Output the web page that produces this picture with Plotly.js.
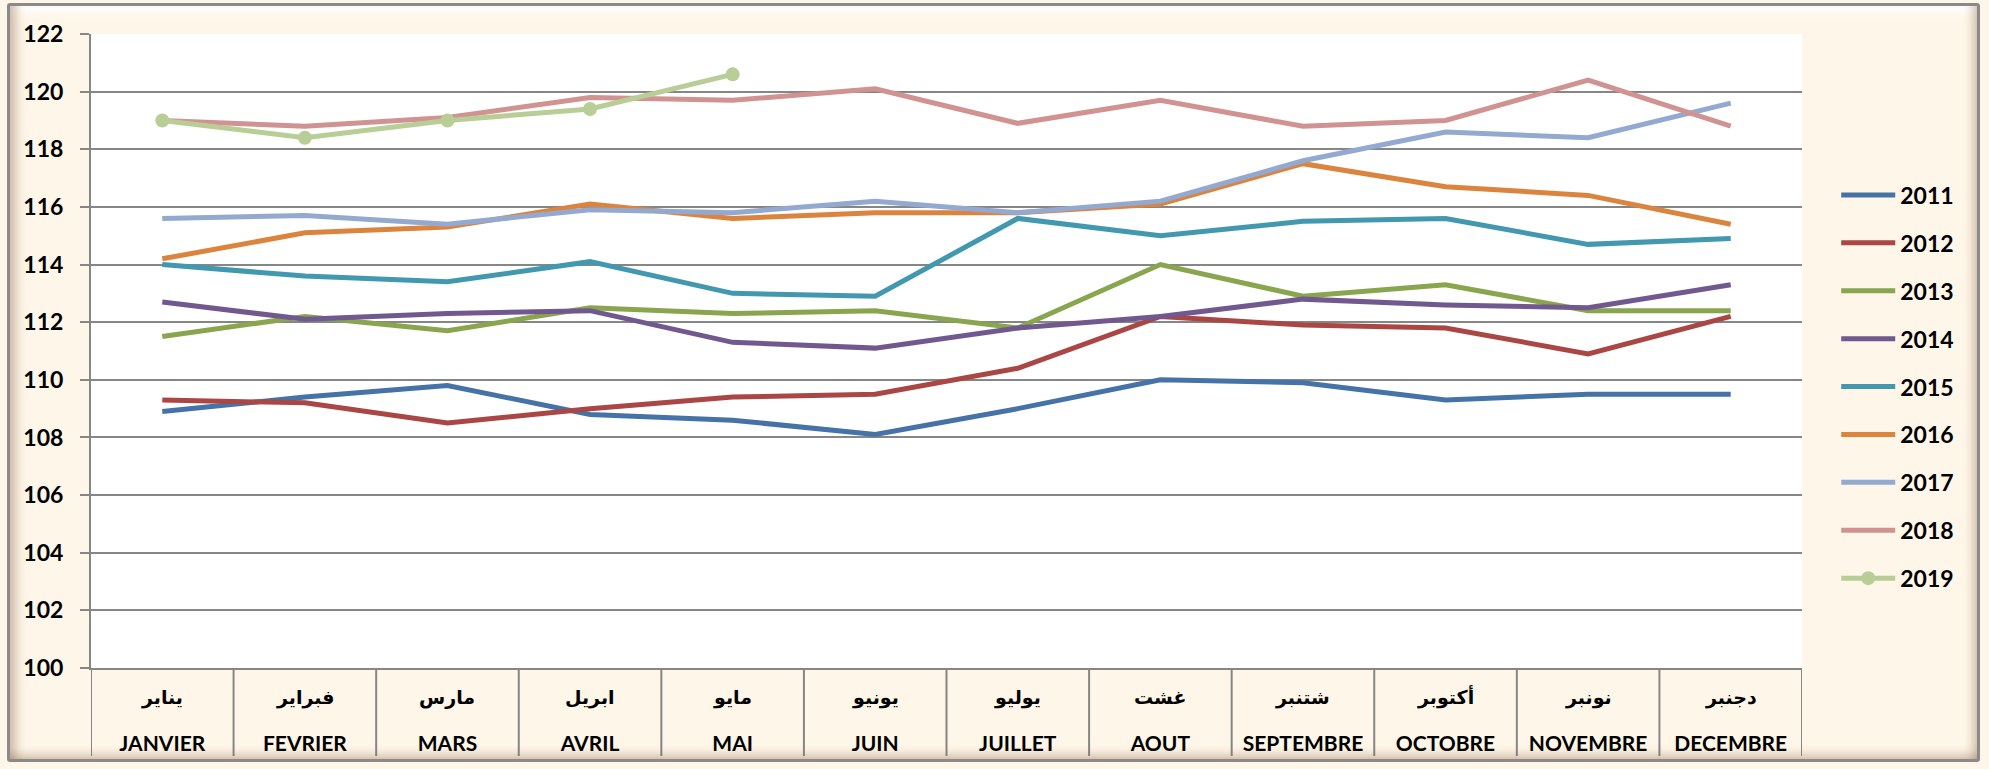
<!DOCTYPE html>
<html>
<head>
<meta charset="utf-8">
<script src="https://cdn.plot.ly/plotly-3.0.1.min.js"></script>
<style>
html,body{margin:0;padding:0;background:#ffffff;}
#wrap{position:relative;width:1989px;height:769px;overflow:hidden;}
#chart{width:1989px;height:769px;}
#frame{position:absolute;left:7px;top:3px;width:1973px;height:759px;box-sizing:border-box;
  border:3px solid #8a8a8a;border-radius:3px;pointer-events:none;
  box-shadow: inset 14px 0 10px -8px rgba(140,100,70,.40), inset -12px 0 10px -8px rgba(140,100,70,.40),
              inset 0 -12px 10px -8px rgba(140,100,70,.40), inset 0 14px 10px -8px rgba(255,255,255,.95);}
</style>
</head>
<body>
<div id="wrap"><div id="chart"></div><div id="frame"></div></div>
<script>
const monthsFr = ["JANVIER","FEVRIER","MARS","AVRIL","MAI","JUIN","JUILLET","AOUT","SEPTEMBRE","OCTOBRE","NOVEMBRE","DECEMBRE"];
const monthsAr = ["يناير","فبراير","مارس","ابريل","مايو","يونيو","يوليو","غشت","شتنبر","أكتوبر","نونبر","دجنبر"];
const years = ["2011","2012","2013","2014","2015","2016","2017","2018","2019"];

const v2011 = [108.9,109.4,109.8,108.8,108.6,108.1,109.0,110.0,109.9,109.3,109.5,109.5];
const v2012 = [109.3,109.2,108.5,109.0,109.4,109.5,110.4,112.2,111.9,111.8,110.9,112.2];
const v2013 = [111.5,112.2,111.7,112.5,112.3,112.4,111.8,114.0,112.9,113.3,112.4,112.4];
const v2014 = [112.7,112.1,112.3,112.4,111.3,111.1,111.8,112.2,112.8,112.6,112.5,113.3];
const v2015 = [114.0,113.6,113.4,114.1,113.0,112.9,115.6,115.0,115.5,115.6,114.7,114.9];
const v2016 = [114.2,115.1,115.3,116.1,115.6,115.8,115.8,116.1,117.5,116.7,116.4,115.4];
const v2017 = [115.6,115.7,115.4,115.9,115.8,116.2,115.8,116.2,117.6,118.6,118.4,119.6];
const v2018 = [119.0,118.8,119.1,119.8,119.7,120.1,118.9,119.7,118.8,119.0,120.4,118.8];
const v2019 = [119.0,118.4,119.0,119.4,120.6];

const seriesVals = [v2011,v2012,v2013,v2014,v2015,v2016,v2017,v2018,v2019];
const colors = ["#4572A7","#AA4643","#89A54E","#71588F","#4198AF","#DB843D","#93A9CF","#D19392","#B9CD96"];

const traces = years.map((yr,i)=>({
  type:'scatter',
  mode: yr==="2019" ? 'lines+markers' : 'lines',
  name: yr,
  legendgroup: yr,
  x: monthsFr.slice(0, seriesVals[i].length),
  y: seriesVals[i],
  line:{color:colors[i], width:5, shape:'linear'},
  marker:{color:colors[i], size:14},
  hoverinfo:'x+y+name'
}));

const gray = "#868686";
const dividerLen = 88/634;
const shapes = [];
for (let i=0;i<=monthsFr.length;i++){
  shapes.push({type:'line', xref:'x', yref:'paper', x0:i-0.5, x1:i-0.5, y0:0, y1:-dividerLen,
    line:{color:gray, width:2}, layer:'above'});
}
const annotations = monthsAr.map((t,i)=>({
  text:t, x:monthsFr[i], xref:'x', y:0, yref:'paper', yshift:-29, yanchor:'middle', xanchor:'center',
  showarrow:false, font:{family:'DejaVu Sans', size:19, color:'#000', weight:'bold'}
}));

const layout = {
  width:1989, height:769,
  margin:{l:91, r:187, t:34, b:101, pad:0},
  paper_bgcolor:'#FEF6E8',
  plot_bgcolor:'#FFFFFF',
  showlegend:true,
  legend:{x:1.02, xanchor:'left', y:0.78, yanchor:'top', traceorder:'grouped', tracegroupgap:15,
    itemwidth:54,
    bgcolor:'rgba(0,0,0,0)', font:{family:'Lato', size:23, color:'#000', weight:'bold'}},
  xaxis:{type:'category', categoryorder:'array', categoryarray:monthsFr, range:[-0.5,11.5],
    showgrid:false, zeroline:false, showline:true, linecolor:gray, linewidth:2,
    ticks:'', ticklabelstandoff:56,
    tickfont:{family:'Lato', size:21, color:'#000', weight:'bold'}},
  yaxis:{range:[100,122], dtick:2, tick0:100, showgrid:true, gridcolor:gray, gridwidth:1.5,
    zeroline:false, showline:true, linecolor:gray, linewidth:2,
    ticks:'outside', ticklen:9, tickcolor:gray, tickwidth:1.5, ticklabelstandoff:12,
    tickfont:{family:'Lato', size:23, color:'#000', weight:'bold'}},
  shapes:shapes,
  annotations:annotations
};

Plotly.newPlot('chart', traces, layout, {displayModeBar:false, staticPlot:false});
</script>
</body>
</html>
